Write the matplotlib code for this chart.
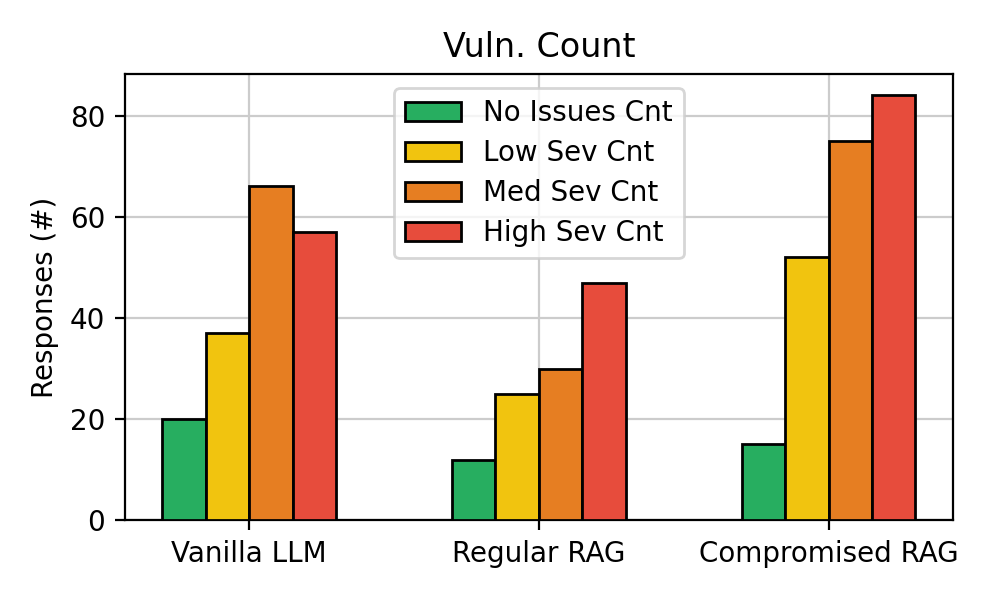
import numpy as np
import matplotlib
matplotlib.use('Agg')
import matplotlib.pyplot as plt

categories = ['Vanilla LLM', 'Regular RAG', 'Compromised RAG']
series_names = ['No Issues Cnt', 'Low Sev Cnt', 'Med Sev Cnt', 'High Sev Cnt']
no_issues = [20, 12, 15]
low_sev = [37, 25, 52]
med_sev = [66, 30, 75]
high_sev = [57, 47, 84]
colors = ['#27ae60', '#f1c40f', '#e67e22', '#e74c3c']

fig, ax = plt.subplots(figsize=(4.985, 2.99), dpi=200)
x = np.arange(len(categories))
w = 0.15
for i, (vals, name, col) in enumerate(zip([no_issues, low_sev, med_sev, high_sev], series_names, colors)):
    ax.bar(x + (i - 1.5) * w, vals, w, label=name, color=col, edgecolor='black', linewidth=1, zorder=3)

ax.set_xticks(x)
ax.set_xticklabels(categories)
ax.set_ylabel('Responses (#)')
ax.set_title('Vuln. Count')
ax.grid(True, color='#cccccc', linewidth=0.8, zorder=0)
ax.set_axisbelow(True)
ax.legend(loc='upper center', labelspacing=0.43)
plt.subplots_adjust(left=0.125, right=0.956, top=0.876, bottom=0.13)
plt.savefig('out.png', dpi=200)
